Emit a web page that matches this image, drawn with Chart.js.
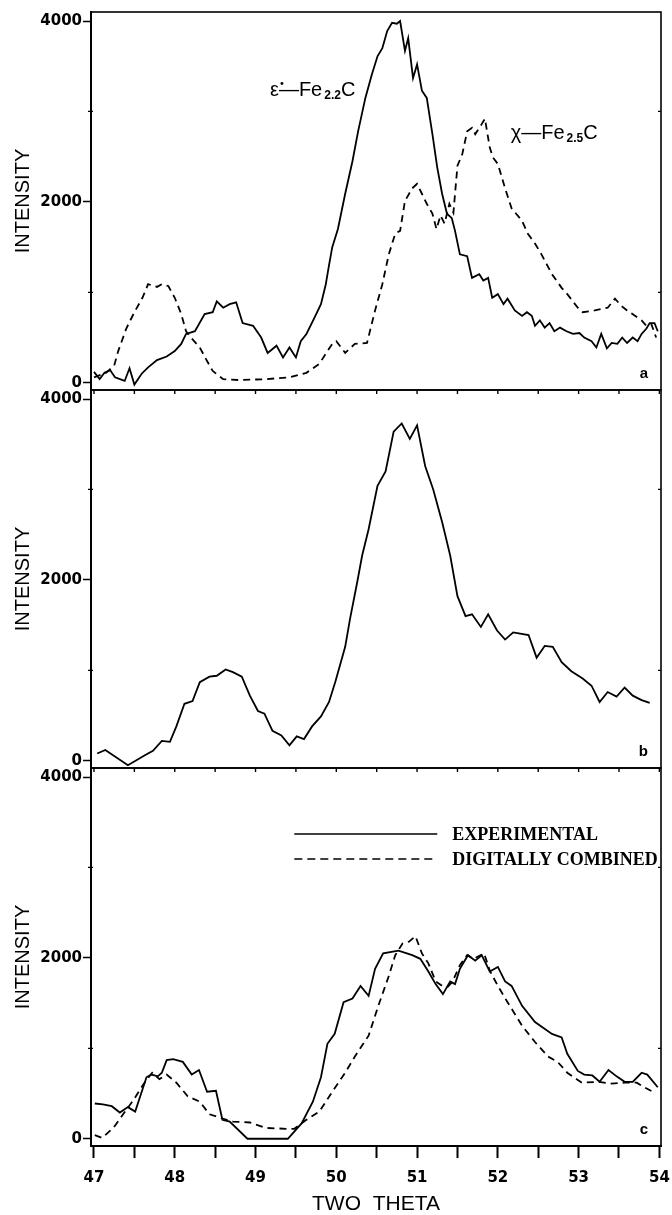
<!DOCTYPE html>
<html>
<head>
<meta charset="utf-8">
<title>Intensity vs two theta</title>
<script src="https://cdn.jsdelivr.net/npm/chart.js@4.4.1/dist/chart.umd.min.js"></script>
<style>
  html, body { margin: 0; padding: 0; background: #fff; }
  canvas { display: block; }
</style>
</head>
<body>
<canvas id="xrd" width="672" height="1215"></canvas>
<script>
// [two theta, intensity] pairs

// panel a, epsilon' carbide (solid)
const epsScan = [[47.0,120],[47.07,40],[47.13,110],[47.2,140],[47.26,60],[47.38,20],[47.44,160],[47.5,-20],[47.59,100],[47.67,170],[47.78,250],[47.9,290],[48.0,350],[48.08,430],[48.14,540],[48.25,570],[48.37,760],[48.47,780],[48.52,900],[48.6,830],[48.68,870],[48.76,890],[48.84,660],[48.97,630],[49.07,500],[49.15,330],[49.26,410],[49.34,280],[49.42,390],[49.5,280],[49.56,460],[49.63,540],[49.73,720],[49.81,870],[49.87,1090],[49.91,1300],[49.95,1500],[50.02,1700],[50.11,2090],[50.2,2450],[50.27,2780],[50.36,3150],[50.44,3410],[50.51,3610],[50.57,3700],[50.63,3890],[50.69,3980],[50.75,3970],[50.79,4000],[50.85,3670],[50.89,3810],[50.95,3370],[51.0,3520],[51.06,3230],[51.12,3150],[51.19,2750],[51.25,2380],[51.31,2090],[51.37,1870],[51.43,1820],[51.47,1680],[51.53,1420],[51.62,1400],[51.68,1160],[51.77,1200],[51.82,1130],[51.88,1160],[51.93,940],[52.0,980],[52.07,870],[52.12,930],[52.21,800],[52.3,740],[52.36,780],[52.42,740],[52.46,630],[52.52,690],[52.58,610],[52.64,660],[52.7,570],[52.77,610],[52.85,570],[52.93,540],[53.01,550],[53.07,500],[53.16,460],[53.22,390],[53.28,540],[53.35,380],[53.41,440],[53.48,430],[53.54,500],[53.6,440],[53.67,500],[53.73,460],[53.78,540],[53.84,600],[53.88,660],[53.94,660],[53.98,570]];

// panel a, chi carbide (dashed)
const chiScan = [[47.0,60],[47.15,110],[47.25,190],[47.3,350],[47.4,600],[47.5,780],[47.6,940],[47.67,1090],[47.78,1060],[47.84,1090],[47.92,1070],[48.0,940],[48.08,760],[48.14,570],[48.2,500],[48.31,390],[48.4,240],[48.47,130],[48.6,40],[48.8,30],[49.13,40],[49.42,60],[49.63,110],[49.79,210],[49.89,350],[49.95,430],[50.0,460],[50.11,330],[50.23,430],[50.38,440],[50.48,800],[50.57,1090],[50.65,1420],[50.73,1650],[50.79,1680],[50.85,2010],[50.94,2150],[51.0,2200],[51.06,2090],[51.12,1980],[51.19,1870],[51.24,1700],[51.29,1850],[51.34,1760],[51.4,1980],[51.45,1880],[51.5,2400],[51.56,2530],[51.62,2780],[51.68,2820],[51.72,2750],[51.8,2860],[51.84,2920],[51.9,2600],[51.94,2490],[52.0,2420],[52.09,2150],[52.17,1930],[52.3,1790],[52.37,1650],[52.46,1540],[52.54,1420],[52.67,1200],[52.79,1050],[52.86,980],[52.99,830],[53.05,780],[53.2,800],[53.36,830],[53.45,930],[53.53,850],[53.6,800],[53.78,690],[53.84,630],[53.9,650],[53.96,500]];

// panel b
const sampleScan = [[47.04,80],[47.14,120],[47.42,-50],[47.63,60],[47.73,110],[47.84,220],[47.94,210],[48.02,380],[48.12,630],[48.22,660],[48.31,870],[48.43,930],[48.52,940],[48.63,1010],[48.72,980],[48.83,930],[48.93,720],[49.03,550],[49.11,520],[49.21,330],[49.32,280],[49.42,170],[49.51,270],[49.6,240],[49.7,380],[49.81,490],[49.91,650],[49.99,880],[50.11,1260],[50.17,1570],[50.26,1980],[50.32,2270],[50.4,2560],[50.51,3040],[50.61,3200],[50.71,3640],[50.81,3730],[50.91,3560],[51.0,3710],[51.1,3260],[51.2,3000],[51.31,2640],[51.41,2270],[51.5,1820],[51.6,1600],[51.68,1620],[51.79,1480],[51.88,1620],[51.99,1440],[52.09,1340],[52.19,1420],[52.38,1390],[52.48,1140],[52.58,1270],[52.68,1260],[52.79,1090],[52.91,990],[53.05,910],[53.16,830],[53.26,650],[53.36,760],[53.47,710],[53.57,810],[53.67,720],[53.78,670],[53.88,640]];

// panel c, experimental (solid)
const expScan = [[47.01,390],[47.11,380],[47.22,360],[47.32,290],[47.42,350],[47.51,300],[47.65,680],[47.71,710],[47.79,690],[47.84,730],[47.9,870],[47.98,880],[48.1,850],[48.21,710],[48.3,760],[48.4,520],[48.51,530],[48.59,210],[48.68,190],[48.9,0],[49.4,0],[49.57,170],[49.71,410],[49.81,680],[49.89,1050],[49.98,1160],[50.09,1510],[50.2,1550],[50.3,1690],[50.4,1580],[50.48,1880],[50.58,2050],[50.77,2080],[50.94,2030],[51.04,1990],[51.14,1850],[51.23,1710],[51.32,1600],[51.41,1740],[51.47,1710],[51.53,1880],[51.63,2030],[51.72,1970],[51.8,2030],[51.9,1850],[52.0,1900],[52.09,1740],[52.17,1690],[52.3,1470],[52.46,1290],[52.67,1160],[52.79,1120],[52.86,940],[52.99,750],[53.07,710],[53.17,700],[53.26,630],[53.37,760],[53.47,690],[53.57,630],[53.67,630],[53.78,730],[53.85,710],[53.98,570]];

// panel c, digitally combined (dashed)
const combinedScan = [[47.01,40],[47.1,10],[47.24,120],[47.36,270],[47.49,430],[47.61,600],[47.72,730],[47.81,660],[47.9,710],[48.02,620],[48.16,470],[48.31,410],[48.43,270],[48.57,230],[48.72,190],[48.93,180],[49.13,120],[49.38,110],[49.48,110],[49.63,210],[49.79,300],[49.95,520],[50.11,730],[50.23,910],[50.4,1140],[50.52,1470],[50.65,1800],[50.73,2030],[50.82,2160],[50.9,2180],[50.98,2240],[51.06,2050],[51.14,1940],[51.23,1740],[51.31,1690],[51.38,1680],[51.44,1740],[51.53,1920],[51.62,2030],[51.7,1990],[51.83,2050],[51.9,1860],[52.0,1690],[52.12,1510],[52.3,1250],[52.46,1070],[52.62,910],[52.74,850],[52.86,730],[53.04,620],[53.24,630],[53.41,610],[53.57,620],[53.72,620],[53.81,570],[53.94,510]];

const thetaTicks = [47, 47.5, 48, 48.5, 49, 49.5, 50, 50.5, 51, 51.5, 52, 52.5, 53, 53.5, 54];
const intensityTicks = [0, 1000, 2000, 3000, 4000];
const panelIds = ['ya', 'yb', 'yc'];
const panelLetters = ['a', 'b', 'c'];
const legendNames = ['EXPERIMENTAL', 'DIGITALLY COMBINED'];

const toPoints = pairs => pairs.map(p => ({ x: p[0], y: p[1] }));

const DASH = [7, 5];

function line(data, axis, dashed) {
  return {
    data: toPoints(data),
    yAxisID: axis,
    borderColor: '#000',
    borderWidth: 1.8,
    borderDash: dashed ? DASH : [],
    pointRadius: 0,
    tension: 0,
    fill: false
  };
}

function panelScale() {
  return {
    type: 'linear',
    position: 'left',
    stack: 'panels',
    stackWeight: 1,
    min: -80,
    max: 4100,
    afterBuildTicks: s => { s.ticks = intensityTicks.map(v => ({ value: v })); },
    afterFit: s => { s.width = 91; },
    ticks: {
      color: '#000',
      padding: 1,
      font: { family: 'DejaVu Sans', size: 15, weight: 'bold' },
      callback: v => (v % 2000 === 0 ? String(v) : '')
    },
    grid: {
      drawOnChartArea: false,
      tickLength: 8,
      tickWidth: 1.5,
      tickColor: c => (c.tick && c.tick.value % 2000 === 0 ? '#000' : 'rgba(0,0,0,0)')
    },
    border: { display: true, color: '#000', width: 2 },
    title: {
      display: true,
      text: 'INTENSITY',
      color: '#000',
      font: { family: 'Liberation Sans', size: 20 },
      padding: { top: 11, bottom: 0 }
    }
  };
}

// draws runs of text with subscripts/superscripts, left to right
function drawRuns(ctx, x, y, runs) {
  runs.forEach(r => {
    ctx.font = r.font;
    ctx.fillText(r.text, x, y + (r.dy || 0));
    x += ctx.measureText(r.text).width + (r.gap || 0);
  });
}

const panelDecor = {
  id: 'panelDecor',
  afterDatasetsDraw(chart) {
    const { ctx, chartArea, scales } = chart;
    const xs = scales.x;
    ctx.save();
    ctx.strokeStyle = '#000';
    ctx.fillStyle = '#000';

    panelIds.forEach((id, i) => {
      const s = scales[id];
      // panel frame
      ctx.lineWidth = 1.6;
      ctx.strokeRect(chartArea.left, s.top, chartArea.right - chartArea.left, s.bottom - s.top);

      // small minor marks on both sides
      ctx.lineWidth = 1.2;
      [1000, 3000].forEach(v => {
        const py = s.getPixelForValue(v);
        ctx.beginPath();
        ctx.moveTo(chartArea.left - 3, py); ctx.lineTo(chartArea.left + 2, py);
        ctx.moveTo(chartArea.right - 3, py); ctx.lineTo(chartArea.right, py);
        ctx.stroke();
      });

      // short theta ticks under the upper panels
      if (i < panelIds.length - 1) {
        ctx.lineWidth = 1.4;
        thetaTicks.forEach(t => {
          const px = xs.getPixelForValue(t);
          ctx.beginPath();
          ctx.moveTo(px, s.bottom);
          ctx.lineTo(px, s.bottom + 4);
          ctx.stroke();
        });
      }

      ctx.font = 'bold 15px "Liberation Sans"';
      ctx.textAlign = 'right';
      ctx.textBaseline = 'alphabetic';
      ctx.fillText(panelLetters[i], chartArea.right - 13, s.bottom - 12);
    });

    // phase labels in panel a
    const ya = scales.ya;
    ctx.textAlign = 'left';
    ctx.textBaseline = 'alphabetic';
    const big = '20px "Liberation Sans"';
    const sub = 'bold 12px "Liberation Sans"';
    drawRuns(ctx, xs.getPixelForValue(49.18), ya.getPixelForValue(3170), [
      { text: '\u03b5', font: big },
      { text: '\u2022', font: '10px "DejaVu Sans"', dy: -9, gap: -6 },
      { text: '\u2014Fe', font: big, gap: 2 },
      { text: '2.2', font: sub, dy: 3 },
      { text: 'C', font: big }
    ]);
    drawRuns(ctx, xs.getPixelForValue(52.16), ya.getPixelForValue(2700), [
      { text: '\u03c7\u2014Fe', font: big, gap: 2 },
      { text: '2.5', font: sub, dy: 3 },
      { text: 'C', font: big }
    ]);

    // legend in panel c
    const x0 = xs.getPixelForValue(49.48);
    const x1 = xs.getPixelForValue(51.25);
    const rows = [834, 859];
    ctx.lineWidth = 1.6;
    rows.forEach((ry, k) => {
      ctx.setLineDash(k === 0 ? [] : [8, 5]);
      ctx.beginPath();
      ctx.moveTo(x0, ry);
      ctx.lineTo(x1, ry);
      ctx.stroke();
      ctx.setLineDash([]);
      ctx.font = 'bold 18px "Liberation Serif"';
      ctx.textBaseline = 'middle';
      ctx.fillText(legendNames[k], x1 + 15, ry + 1);
    });
    ctx.restore();
  }
};

new Chart(document.getElementById('xrd'), {
  type: 'line',
  data: {
    datasets: [
      line(epsScan, 'ya', false),
      line(chiScan, 'ya', true),
      line(sampleScan, 'yb', false),
      line(expScan, 'yc', false),
      line(combinedScan, 'yc', true)
    ]
  },
  options: {
    responsive: false,
    animation: false,
    devicePixelRatio: 1,
    layout: { padding: { top: 12, right: 11, left: 0, bottom: 0 } },
    plugins: {
      legend: { display: false },
      tooltip: { enabled: false }
    },
    scales: {
      x: {
        type: 'linear',
        position: 'bottom',
        min: 46.963,
        max: 54.02,
        afterBuildTicks: s => { s.ticks = thetaTicks.map(v => ({ value: v })); },
        afterFit: s => {
          s.height = 69;
          // the last label may overhang the frame a little
          s.paddingLeft = 0;
          s.paddingRight = 0;
        },
        ticks: {
          autoSkip: false,
          maxRotation: 0,
          padding: 11,
          color: '#000',
          font: { family: 'DejaVu Sans', size: 15, weight: 'bold' },
          callback: v => (Number.isInteger(v) ? String(v) : '')
        },
        grid: {
          drawOnChartArea: false,
          tickLength: 12,
          tickWidth: 2,
          tickColor: '#000'
        },
        border: { display: true, color: '#000', width: 2 },
        title: {
          display: true,
          text: 'TWO  THETA',
          color: '#000',
          font: { family: 'Liberation Sans', size: 21, lineHeight: 1 },
          padding: { top: 0, bottom: 0 }
        }
      },
      yc: panelScale(),
      yb: panelScale(),
      ya: panelScale()
    }
  },
  plugins: [panelDecor]
});
</script>
</body>
</html>
